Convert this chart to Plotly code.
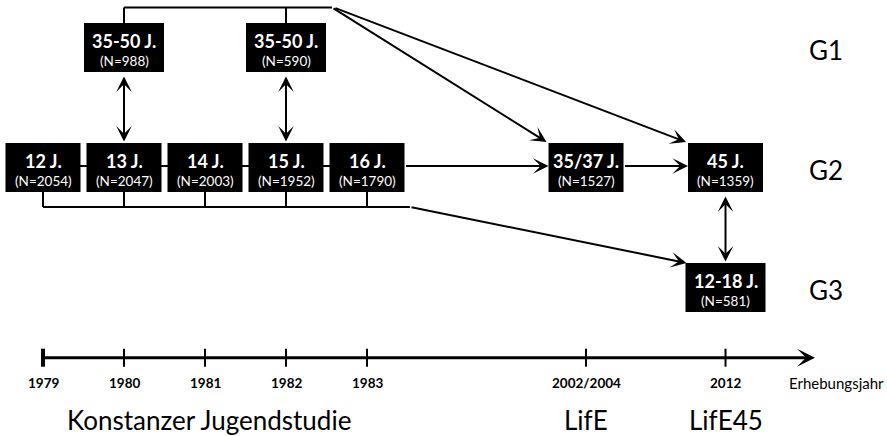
import plotly.graph_objects as go

# ---------------- data ----------------
wave_years = ["1979", "1980", "1981", "1982", "1983", "2002/2004", "2012"]
wave_pos = [0, 1, 2, 3, 4, 6.704, 8.426]          # position on the time line
study_names = ["Konstanzer Jugendstudie", "LifE", "LifE45"]
study_waves = [[0, 1, 2, 3, 4], [5], [6]]
generations = ["G1", "G2", "G3"]

box_gen = [0, 0, 1, 1, 1, 1, 1, 1, 1, 2]
box_wave = [1, 3, 0, 1, 2, 3, 4, 5, 6, 6]
box_age = ["35-50 J.", "35-50 J.", "12 J.", "13 J.", "14 J.", "15 J.", "16 J.",
           "35/37 J.", "45 J.", "12-18 J."]
box_n = [988, 590, 2054, 2047, 2003, 1952, 1790, 1527, 1359, 581]

# ---------------- geometry ----------------
W, H = 887, 436
PX_T, PX_R = 81.0, 120.0       # pixels per time unit / per generation row
X0, Y0 = 43.0, 47.5


def dx(p):
    return p / PX_T


def dy(p):
    return p / PX_R


FONT = "Lato, 'Open Sans', sans-serif"
BLACK = "#000000"

fig = go.Figure()
shapes = []
ann = []


def line(x0, y0, x1, y1, w=2):
    shapes.append(dict(type="line", xref="x", yref="y", x0=x0, y0=y0, x1=x1, y1=y1,
                       line=dict(color=BLACK, width=w)))


def arrow(xt, yt, xs, ys, both=False, w=2, size=1.3):
    ann.append(dict(x=xt, y=yt, ax=xs, ay=ys, xref="x", yref="y", axref="x", ayref="y",
                    text="", showarrow=True, arrowhead=3, startarrowhead=3,
                    arrowside="end+start" if both else "end",
                    arrowsize=size, startarrowsize=size, arrowwidth=w,
                    arrowcolor=BLACK, standoff=0, startstandoff=0,
                    font=dict(size=1)))


HH = dy(24.5)


def half_w(i):
    return dx(37.5) if box_gen[i] == 1 else dx(40)


def bx(i):
    return wave_pos[box_wave[i]]


def by(i):
    return box_gen[i]


# top bracket (G1 -> later waves)
g1 = [i for i in range(len(box_gen)) if box_gen[i] == 0]
y_top = -HH - dy(15.5)
for i in g1:
    line(bx(i), by(i) - HH, bx(i), y_top)
split_top = wave_pos[3] + dx(46)
line(bx(g1[0]), y_top, split_top, y_top)

# bottom bracket (early G2 waves -> G3)
early = [i for i in range(len(box_gen)) if box_gen[i] == 1 and box_wave[i] <= 4]
y_bot = 1 + HH + dy(15)
for i in early:
    line(bx(i), by(i) + HH, bx(i), y_bot)
split_bot = wave_pos[4] + dx(43)
line(bx(early[0]), y_bot, split_bot, y_bot)

# G2 chain line under the boxes
line(bx(early[0]), 1 - dy(1.5), bx(early[-1]), 1 - dy(1.5))

# boxes
for i in range(len(box_gen)):
    hw = half_w(i)
    shapes.append(dict(type="rect", xref="x", yref="y",
                       x0=bx(i) - hw, x1=bx(i) + hw, y0=by(i) - HH, y1=by(i) + HH,
                       fillcolor=BLACK, line=dict(width=0)))
    ann.append(dict(x=bx(i), y=by(i) - dy(6.5), xref="x", yref="y", showarrow=False,
                    text="<b>%s</b>" % box_age[i], xanchor="center", yanchor="middle",
                    font=dict(family=FONT, size=18, color="white")))
    ann.append(dict(x=bx(i), y=by(i) + dy(13.5), xref="x", yref="y", showarrow=False,
                    text="(N=%d)" % box_n[i], xanchor="center", yanchor="middle",
                    font=dict(family=FONT, size=13.5, color="white")))

i_3537, i_45, i_g3 = 7, 8, 9
# diagonal arrows from G1 bracket
arrow(bx(i_3537) - half_w(i_3537) - dx(2), 1 - HH - dy(1), split_top, y_top)
arrow(bx(i_45) - half_w(i_45) - dx(2), 1 - HH - dy(1), split_top + dx(2), y_top)
# G2 horizontal arrows
arrow(bx(i_3537) - half_w(i_3537), 1 - dy(1.5), bx(early[-1]) + half_w(early[-1]), 1 - dy(1.5))
arrow(bx(i_45) - half_w(i_45), 1 - dy(1.5), bx(i_3537) + half_w(i_3537), 1 - dy(1.5))
# bottom bracket to G3
arrow(bx(i_g3) - half_w(i_g3) + dx(1), 2 - HH, split_bot, y_bot)
# double arrows
for i in g1:
    arrow(bx(i), 1 - HH - dy(1.5), bx(i), HH + dy(3), both=True)
arrow(bx(i_45), 2 - HH - dy(1.5), bx(i_45), 1 + HH + dy(3), both=True)

# generation labels
for r, g in enumerate(generations):
    ann.append(dict(x=dx(826 - X0), y=r + dy(2.5), xref="x", yref="y", showarrow=False,
                    text=g, xanchor="center", yanchor="middle",
                    font=dict(family=FONT, size=26, color=BLACK)))

# time line
r_axis = 2.585
arrow(dx(815 - X0), r_axis, wave_pos[0], r_axis, w=3, size=1.0)
for k, (p, yr) in enumerate(zip(wave_pos, wave_years)):
    line(p, r_axis - dy(9), p, r_axis + dy(9), w=4 if k == 0 else 2)
    ann.append(dict(x=p, y=r_axis + dy(25), xref="x", yref="y", showarrow=False,
                    text="<b>%s</b>" % yr, xanchor="center", yanchor="middle",
                    font=dict(family=FONT, size=13.5, color=BLACK)))
ann.append(dict(x=dx(787 - X0), y=r_axis + dy(25), xref="x", yref="y", showarrow=False,
                text="Erhebungsjahr", xanchor="left", yanchor="middle",
                font=dict(family=FONT, size=15, color=BLACK)))

for name, waves in zip(study_names, study_waves):
    cx = sum(wave_pos[w] for w in waves) / len(waves)
    if len(waves) > 1:
        cx += dx(4)
    ann.append(dict(x=cx, y=r_axis + dy(62), xref="x", yref="y", showarrow=False,
                    text=name, xanchor="center", yanchor="middle",
                    font=dict(family=FONT, size=26, color=BLACK)))

fig.update_layout(
    width=W, height=H, margin=dict(l=0, r=0, t=0, b=0),
    paper_bgcolor="white", plot_bgcolor="white", showlegend=False,
    xaxis=dict(range=[-X0 / PX_T, (W - X0) / PX_T], visible=False, fixedrange=True),
    yaxis=dict(range=[(H - Y0) / PX_R, -Y0 / PX_R], visible=False, fixedrange=True),
    shapes=shapes, annotations=ann,
)

fig.write_html("out.html", config={"displayModeBar": False},
               post_script="document.body.style.margin='0px';document.body.style.overflow='hidden';")
